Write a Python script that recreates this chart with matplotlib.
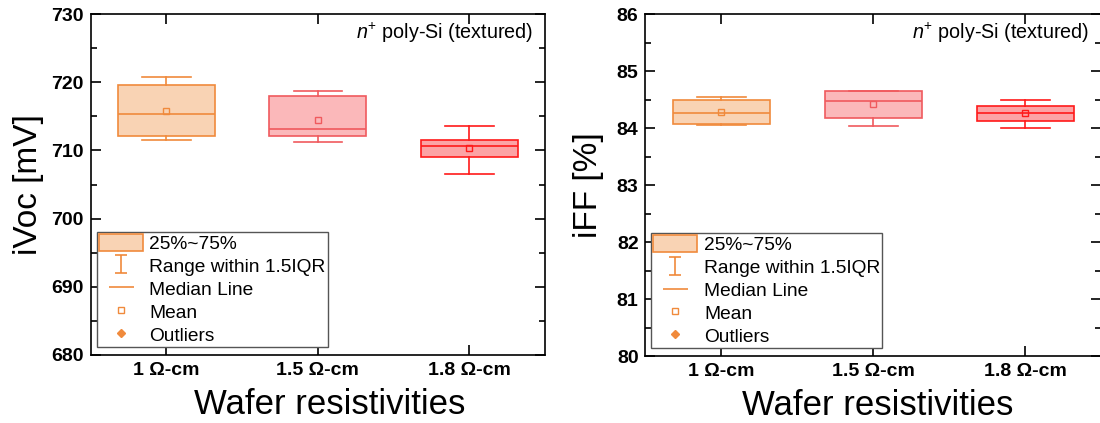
import matplotlib.pyplot as plt
from matplotlib.lines import Line2D
from matplotlib.patches import Patch
from matplotlib.path import Path
from matplotlib.ticker import MultipleLocator

plt.rcParams['font.family'] = ['Liberation Sans', 'DejaVu Sans']
plt.rcParams['mathtext.fontset'] = 'custom'
plt.rcParams['mathtext.rm'] = 'Liberation Sans'
plt.rcParams['mathtext.it'] = 'Liberation Sans:italic'

categories = ['1 Ω-cm', '1.5 Ω-cm', '1.8 Ω-cm']

# iVoc box statistics [mV]
ivoc_whislo = [711.6, 711.2, 706.5]
ivoc_q1 = [712.1, 712.1, 709.0]
ivoc_med = [715.4, 713.1, 710.7]
ivoc_mean = [715.8, 714.4, 710.4]
ivoc_q3 = [719.6, 718.0, 711.6]
ivoc_whishi = [720.8, 718.7, 713.6]

# iFF box statistics [%]
iff_whislo = [84.05, 84.04, 84.01]
iff_q1 = [84.08, 84.17, 84.13]
iff_med = [84.27, 84.47, 84.27]
iff_mean = [84.29, 84.42, 84.26]
iff_q3 = [84.50, 84.65, 84.39]
iff_whishi = [84.54, 84.66, 84.50]

edge_colors = ['#F08A3C', '#F05A5E', '#FF1A1A']
face_colors = ['#F9D3B4', '#FBB8BA', '#FCA3A5']


def draw_boxes(ax, whislo, q1, med, mean, q3, whishi):
    for i in range(len(categories)):
        stats = [dict(whislo=whislo[i], q1=q1[i], med=med[i], mean=mean[i],
                      q3=q3[i], whishi=whishi[i], fliers=[])]
        ec = edge_colors[i]
        ax.bxp(stats, positions=[i + 1], widths=0.64, capwidths=0.32,
               patch_artist=True, showmeans=True, showfliers=False,
               boxprops=dict(facecolor=face_colors[i], edgecolor=ec, linewidth=1.2),
               whiskerprops=dict(color=ec, linewidth=1.2),
               capprops=dict(color=ec, linewidth=1.2),
               medianprops=dict(color=ec, linewidth=1.2),
               meanprops=dict(marker='s', markersize=5, markerfacecolor='none',
                              markeredgecolor=ec, markeredgewidth=1.0))


def style_axes(ax, ylim, major, minor, ylabel, ylabel_x, xlabel_x):
    ax.set_xlim(0.5, 3.5)
    ax.set_ylim(*ylim)
    ax.set_xticks([1, 2, 3])
    ax.set_xticklabels(categories)
    ax.yaxis.set_major_locator(MultipleLocator(major))
    ax.yaxis.set_minor_locator(MultipleLocator(minor))
    ax.tick_params(which='both', direction='in', top=True, right=True, width=1.2,
                   labelsize=14)
    ax.tick_params(which='major', length=7)
    ax.tick_params(which='minor', length=4)
    ax.tick_params(axis='x', pad=5)
    ax.tick_params(axis='y', pad=5)
    for lab in ax.get_xticklabels() + ax.get_yticklabels():
        lab.set_fontweight('bold')
    for s in ax.spines.values():
        s.set_linewidth(1.2)
    ax.set_ylabel(ylabel, fontsize=24)
    ax.yaxis.set_label_coords(ylabel_x, 0.5)
    ax.set_xlabel('Wafer resistivities', fontsize=25)
    ax.xaxis.set_label_coords(xlabel_x, -0.097)
    ax.text(0.974, 0.945, r'$\mathit{n}^{+}$ poly-Si (textured)', transform=ax.transAxes,
            ha='right', va='center', fontsize=14.2)


# I-shaped marker for the whisker range entry
range_marker = Path([(-0.67, 1), (0.67, 1), (0, 1), (0, -1), (-0.67, -1), (0.67, -1)],
                    [Path.MOVETO, Path.LINETO, Path.MOVETO, Path.LINETO,
                     Path.MOVETO, Path.LINETO])
c0 = edge_colors[0]
handles = [
    Patch(facecolor=face_colors[0], edgecolor=c0, linewidth=1.2),
    Line2D([], [], ls='none', marker=range_marker, markersize=13,
           markerfacecolor='none', markeredgecolor=c0, markeredgewidth=1.2),
    Line2D([], [], ls='none', marker='_', markersize=18, markeredgecolor=c0,
           markeredgewidth=1.2),
    Line2D([], [], ls='none', marker='s', markersize=4, markerfacecolor='none',
           markeredgecolor=c0),
    Line2D([], [], ls='none', marker='D', markersize=4, color=c0),
]
labels = ['25%~75%', 'Range within 1.5IQR', 'Median Line', 'Mean', 'Outliers']

fig = plt.figure(figsize=(11, 4.23), dpi=100)
ax1 = fig.add_axes([0.0825, 0.1608, 0.413, 0.806])
ax2 = fig.add_axes([0.5868, 0.158, 0.4145, 0.8085])

draw_boxes(ax1, ivoc_whislo, ivoc_q1, ivoc_med, ivoc_mean, ivoc_q3, ivoc_whishi)
style_axes(ax1, (680, 730), 10, 5, 'iVoc [mV]', -0.103, 0.525)

draw_boxes(ax2, iff_whislo, iff_q1, iff_med, iff_mean, iff_q3, iff_whishi)
style_axes(ax2, (80, 86), 1, 0.5, 'iFF [%]', -0.091, 0.51)

for ax in (ax1, ax2):
    leg = ax.legend(handles, labels, loc='lower left', bbox_to_anchor=(0.013, 0.024),
                    fontsize=13.8, frameon=True, fancybox=False, framealpha=1,
                    edgecolor='#555555', borderpad=0.1, labelspacing=0.2,
                    handlelength=2.3, handleheight=1.0, handletextpad=0.35,
                    borderaxespad=0)
    leg.get_frame().set_linewidth(1.0)

fig.savefig('out.png', dpi=100)
